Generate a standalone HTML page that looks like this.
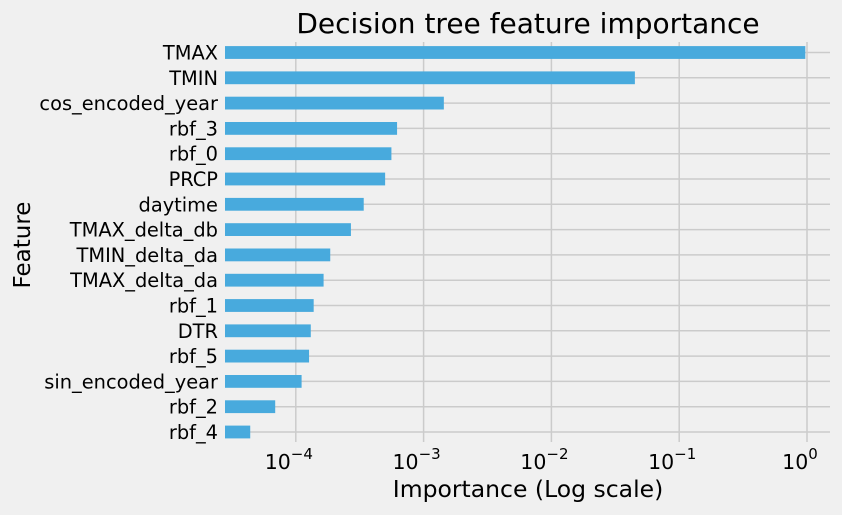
<!DOCTYPE html>
<html><head><meta charset="utf-8"><style>
html,body{margin:0;padding:0;background:#f0f0f0;}
svg text{font-family:"DejaVu Sans","Liberation Sans",sans-serif;fill:#000;}
</style></head><body>
<svg id="chart" width="842" height="510" xmlns="http://www.w3.org/2000/svg">
<rect width="842" height="510" fill="#f0f0f0"/>
<text x="528" y="33" font-size="28" text-anchor="middle">Decision tree feature importance</text>
<g id="grid"></g><g id="bars"></g><g id="labels"></g>
<text x="528" y="497" font-size="23.5" text-anchor="middle">Importance (Log scale)</text>
<text transform="translate(30,245) rotate(-90)" font-size="23" text-anchor="middle">Feature</text>
</svg>
<script>
const features = ["TMAX","TMIN","cos_encoded_year","rbf_3","rbf_0","PRCP","daytime","TMAX_delta_db","TMIN_delta_da","TMAX_delta_da","rbf_1","DTR","rbf_5","sin_encoded_year","rbf_2","rbf_4"];
const importances = [0.97,0.045,0.00144,0.00062,0.00056,0.0005,0.00034,0.00027,0.000186,0.000165,0.000138,0.000131,0.000127,0.000111,0.000069,0.000044];
const tickExps = [-4,-3,-2,-1,0];
const supers = {"-4":"−4","-3":"−3","-2":"−2","-1":"−1","0":"0"};
const NS="http://www.w3.org/2000/svg";
const x0=225,x1=830,yTop=42,yBot=442;
const px0=807,decade=127.8;
function xs(v){return px0+Math.log10(v)*decade;}
function ys(i){return 52.5+i*25.3;}
function mk(t,a,p){const e=document.createElementNS(NS,t);for(const k in a)e.setAttribute(k,a[k]);p.appendChild(e);return e;}
const grid=document.getElementById('grid'),bars=document.getElementById('bars'),labels=document.getElementById('labels');
tickExps.forEach(e=>{
  const x=xs(Math.pow(10,e));
  const l=mk('line',{x1:x,x2:x,y1:yTop,y2:yBot,stroke:'#cbcbcb','stroke-width':1.5},grid);
  
  
  const t=mk('text',{x:x-7,y:469,'font-size':20.5,'text-anchor':'middle'},labels);
  
  
  t.textContent='10';
  const s=mk('tspan',{dy:-10,'font-size':15},t);s.textContent=supers[e];
});
features.forEach((f,i)=>{
  const y=ys(i);
  const g=mk('line',{x1:x0,x2:x1,y1:y,y2:y,stroke:'#cbcbcb','stroke-width':1.5},grid);
  
  
  const b=mk('rect',{x:x0,y:y-6.4,width:Math.max(0,xs(importances[i])-x0),height:12.8,fill:'#48aadd'},bars);
  
  
  const t=mk('text',{x:218,y:y+7,'font-size':19.4,'text-anchor':'end'},labels);
  
  
  t.textContent=f;
});
</script>
</body></html>
